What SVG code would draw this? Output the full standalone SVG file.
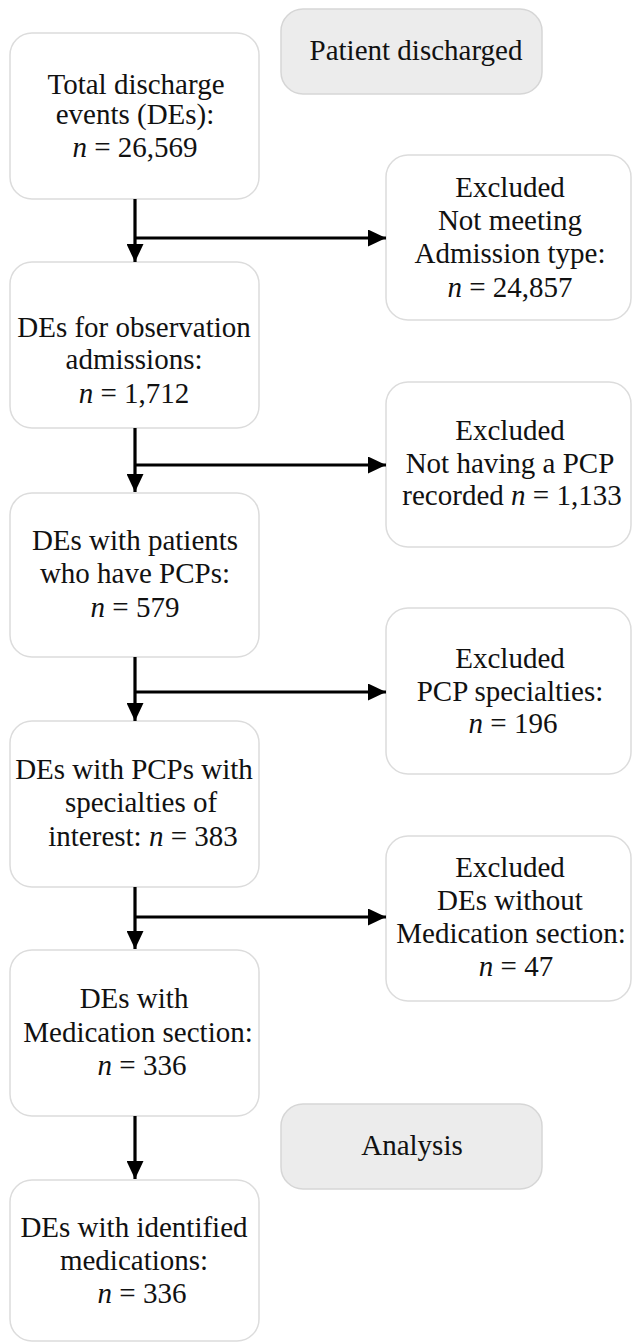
<svg xmlns="http://www.w3.org/2000/svg" width="632" height="1342" viewBox="0 0 632 1342">
<style>
.box{fill:#ffffff;stroke:#dcdcdc;stroke-width:1.5}
.gbox{fill:#ececec;stroke:#d6d6d6;stroke-width:1.5}
.t{font-family:'Liberation Serif','Tinos','Times New Roman','DejaVu Serif',serif;font-size:29px;fill:#111;text-anchor:middle}
.i{font-style:italic}
.ln{stroke:#000;stroke-width:3.2;fill:none}
</style>
<defs>
<marker id="ah" markerWidth="18" markerHeight="17" viewBox="0 0 18 17" refX="18" refY="8.5" orient="auto" markerUnits="userSpaceOnUse">
<path d="M0,0 L18,8.5 L0,17 Z" fill="#000"/>
</marker>
</defs>
<rect width="632" height="1342" fill="#fff"/>
<g id="patient-discharged">
<rect class="gbox" x="281" y="9" width="261" height="85" rx="22"/>
<text class="t" x="416" y="60">Patient discharged</text>
</g>
<g id="total">
<rect class="box" x="10" y="33" width="249" height="166" rx="22"/>
<text class="t" x="136" y="94">Total discharge</text>
<text class="t" x="135" y="124">events (DEs):</text>
<text class="t" x="135" y="157"><tspan class="i">n</tspan> = 26,569</text>
</g>
<g id="excl1">
<rect class="box" x="386" y="155" width="245" height="165" rx="22"/>
<text class="t" x="510" y="197">Excluded</text>
<text class="t" x="510" y="230">Not meeting</text>
<text class="t" x="510" y="263">Admission type:</text>
<text class="t" x="510" y="297"><tspan class="i">n</tspan> = 24,857</text>
</g>
<g id="obs">
<rect class="box" x="10" y="262" width="249" height="166" rx="22"/>
<text class="t" x="134" y="337">DEs for observation</text>
<text class="t" x="134" y="369">admissions:</text>
<text class="t" x="134" y="403"><tspan class="i">n</tspan> = 1,712</text>
</g>
<g id="excl2">
<rect class="box" x="386" y="382" width="245" height="165" rx="22"/>
<text class="t" x="510" y="440">Excluded</text>
<text class="t" x="510" y="473">Not having a PCP</text>
<text class="t" x="512" y="505">recorded <tspan class="i">n</tspan> = 1,133</text>
</g>
<g id="pcp">
<rect class="box" x="10" y="493" width="249" height="164" rx="22"/>
<text class="t" x="135" y="550">DEs with patients</text>
<text class="t" x="135" y="583">who have PCPs:</text>
<text class="t" x="135" y="617"><tspan class="i">n</tspan> = 579</text>
</g>
<g id="excl3">
<rect class="box" x="386" y="608" width="245" height="166" rx="22"/>
<text class="t" x="510" y="668">Excluded</text>
<text class="t" x="510" y="701">PCP specialties:</text>
<text class="t" x="513" y="733"><tspan class="i">n</tspan> = 196</text>
</g>
<g id="spec">
<rect class="box" x="10" y="721" width="249" height="166" rx="22"/>
<text class="t" x="134" y="779">DEs with PCPs with</text>
<text class="t" x="141" y="812">specialties of</text>
<text class="t" x="143" y="846">interest: <tspan class="i">n</tspan> = 383</text>
</g>
<g id="excl4">
<rect class="box" x="386" y="836" width="245" height="165" rx="22"/>
<text class="t" x="510" y="877">Excluded</text>
<text class="t" x="510" y="910">DEs without</text>
<text class="t" x="511" y="943">Medication section:</text>
<text class="t" x="516" y="976"><tspan class="i">n</tspan> = 47</text>
</g>
<g id="med">
<rect class="box" x="10" y="950" width="249" height="166" rx="22"/>
<text class="t" x="134" y="1008">DEs with</text>
<text class="t" x="138" y="1042">Medication section:</text>
<text class="t" x="142" y="1075"><tspan class="i">n</tspan> = 336</text>
</g>
<g id="analysis">
<rect class="gbox" x="281" y="1104" width="261" height="85" rx="22"/>
<text class="t" x="412" y="1155">Analysis</text>
</g>
<g id="ident">
<rect class="box" x="10" y="1180" width="249" height="161" rx="22"/>
<text class="t" x="134" y="1237">DEs with identified</text>
<text class="t" x="134" y="1270">medications:</text>
<text class="t" x="142" y="1303"><tspan class="i">n</tspan> = 336</text>
</g>
<g id="connectors">
<line class="ln" x1="135" y1="199" x2="135" y2="262" marker-end="url(#ah)"/>
<line class="ln" x1="135" y1="238" x2="386" y2="238" marker-end="url(#ah)"/>
<line class="ln" x1="135" y1="428" x2="135" y2="492" marker-end="url(#ah)"/>
<line class="ln" x1="135" y1="465" x2="386" y2="465" marker-end="url(#ah)"/>
<line class="ln" x1="135" y1="657" x2="135" y2="721" marker-end="url(#ah)"/>
<line class="ln" x1="135" y1="692" x2="386" y2="692" marker-end="url(#ah)"/>
<line class="ln" x1="135" y1="887" x2="135" y2="949" marker-end="url(#ah)"/>
<line class="ln" x1="135" y1="917" x2="386" y2="917" marker-end="url(#ah)"/>
<line class="ln" x1="135" y1="1116" x2="135" y2="1179" marker-end="url(#ah)"/>
</g>
</svg>
